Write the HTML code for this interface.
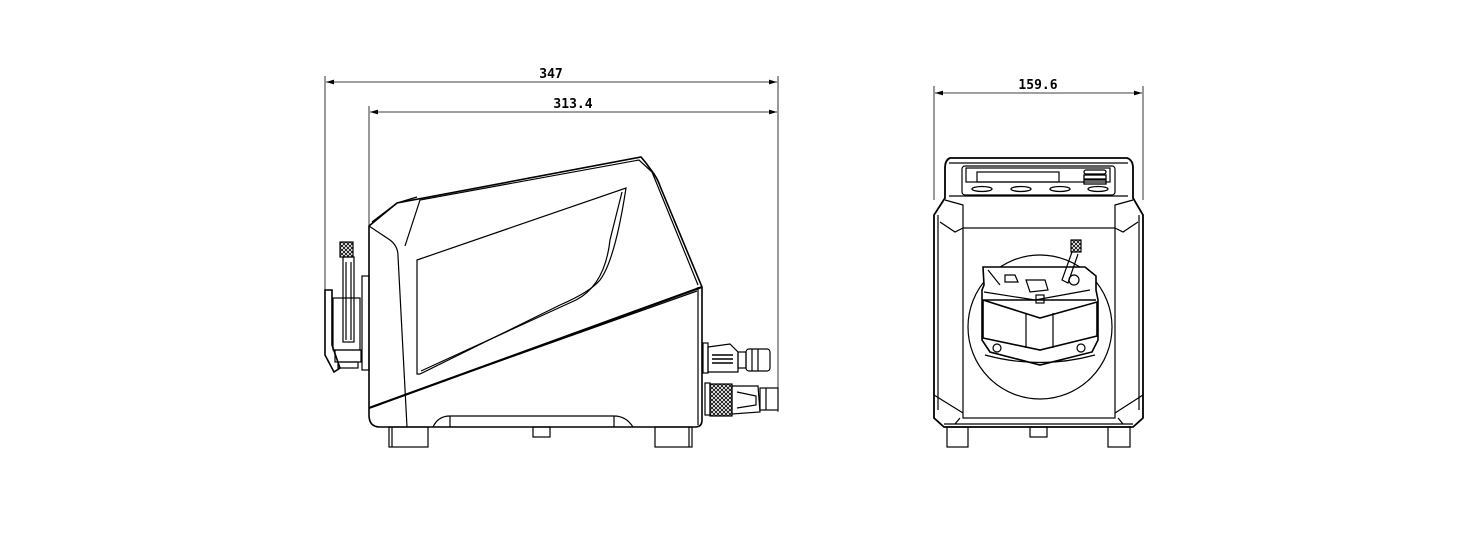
<!DOCTYPE html>
<html><head><meta charset="utf-8"><style>
html,body{margin:0;padding:0;background:#fff;width:1484px;height:556px;overflow:hidden}
svg{display:block}
text{font-family:"DejaVu Sans Mono","Liberation Mono",monospace;font-weight:bold;font-size:13px;fill:#000}
</style></head><body>
<svg width="1484" height="556" viewBox="0 0 1484 556" xmlns="http://www.w3.org/2000/svg">
<defs>
<marker id="a" viewBox="0 0 10 6" refX="10" refY="3" markerWidth="10" markerHeight="6" orient="auto-start-reverse"><path d="M0,0 L10,3 L0,6 z" fill="#000"/></marker>
<pattern id="k" width="4" height="4" patternUnits="userSpaceOnUse"><path d="M0,0L4,4M4,0L0,4" stroke="#000" stroke-width="0.8"/></pattern>
</defs>
<g fill="none" stroke="#000" stroke-width="1.2">
<line x1="325" y1="76" x2="325" y2="290" stroke-width="0.8"/>
<line x1="778" y1="76" x2="778" y2="412" stroke-width="0.8"/>
<line x1="369" y1="106" x2="369" y2="226" stroke-width="0.8"/>
<line x1="326" y1="82" x2="777" y2="82" stroke-width="0.8" marker-start="url(#a)" marker-end="url(#a)"/>
<line x1="370" y1="112" x2="777" y2="112" stroke-width="0.8" marker-start="url(#a)" marker-end="url(#a)"/>
<path d="M369,226 L397,203 L641,157 L646,163 L654,174 Q658,180 660,186 L702,287 L702,420 Q702,427 695,427 L380,427 Q369,427 369,415 Z" stroke-width="1.6"/>
<path d="M369,226 L390,240 Q398,246 398,256 L407,427"/>
<path d="M397,203 L417,197 M397,203 L372,222"/>
<path d="M405,246 L420,200 L639,160 L652,172 L698,285"/>
<path d="M369,408 L702,287" stroke-width="2.2"/>
<path d="M407,394 L697,291"/>
<path d="M417,260 L626,188 Q615,260 600,280 Q590,292 560,305 L420,374 L417,374 Z"/>
<path d="M421,371 L576,300 Q605,285 610,240 L622,192"/>
<path d="M698,287 L698,425"/>
<path d="M433,427 Q438,416 450,416 L614,416 Q626,416 633,427"/>
<path d="M450,416 L450,427 M614,416 L614,427"/>
<rect x="389" y="427" width="39" height="20"/>
<rect x="655" y="427" width="37" height="20"/>
<rect x="533" y="427" width="17" height="10"/>
<line x1="392" y1="427" x2="392" y2="447"/><line x1="689" y1="427" x2="689" y2="447"/>
<rect x="340" y="242" width="13" height="15" fill="url(#k)"/>
<rect x="343" y="257" width="11" height="85"/>
<line x1="346" y1="262" x2="346" y2="340"/><line x1="351" y1="262" x2="351" y2="340"/>
<path d="M325,290 L332,290 L332,345 L340,368 L334,372 L325,355 Z" stroke-width="1.6"/>
<rect x="333" y="298" width="27" height="52"/>
<rect x="362" y="276" width="7" height="94"/>
<rect x="335" y="350" width="26" height="12"/>
<rect x="338" y="362" width="20" height="6"/>
<rect x="703" y="343" width="5" height="30"/>
<path d="M708,347 L730,344 L738,352 L738,372 L708,372 Z"/>
<g stroke-width="1.6"><line x1="712" y1="355" x2="733" y2="355"/><line x1="712" y1="359" x2="733" y2="359"/><line x1="712" y1="363" x2="733" y2="363"/></g>
<rect x="738" y="352" width="8" height="16"/>
<rect x="746" y="349" width="24" height="22" rx="3"/>
<line x1="752" y1="349" x2="752" y2="371"/><line x1="758" y1="349" x2="758" y2="371"/>
<rect x="705" y="383" width="5" height="32"/>
<rect x="710" y="384" width="22" height="32" fill="url(#k)"/>
<path d="M732,386 L758,386 L760,412 L732,414 Z"/>
<path d="M737,392 L756,396 L756,405 L737,408"/>
<rect x="760" y="388" width="18" height="22"/>
<line x1="766" y1="388" x2="766" y2="410"/>
<line x1="934" y1="86" x2="934" y2="200" stroke-width="0.8"/>
<line x1="1143" y1="86" x2="1143" y2="200" stroke-width="0.8"/>
<line x1="935" y1="93" x2="1142" y2="93" stroke-width="0.8" marker-start="url(#a)" marker-end="url(#a)"/>
<path d="M950,158 L1127,158 Q1133,160 1133,168 L1133,198 L1143,215 L1143,418 L1133,427 L944,427 L934,418 L934,215 L945,198 L945,168 Q945,160 950,158 Z" stroke-width="1.8"/>
<path d="M949,163 L1128,163 M949,196 L1128,196"/>
<rect x="962" y="166" width="153" height="29" rx="3"/>
<rect x="966" y="168" width="144" height="14"/>
<rect x="977" y="172" width="82" height="10"/>
<g stroke-width="1.3"><ellipse cx="982" cy="189" rx="10" ry="2.5"/><ellipse cx="1021" cy="189" rx="10" ry="2.5"/><ellipse cx="1060" cy="189" rx="10" ry="2.5"/><ellipse cx="1098" cy="189" rx="10" ry="2.5"/>
<rect x="1084" y="170" width="22" height="4" rx="2"/><rect x="1084" y="175" width="22" height="4"/><rect x="1084" y="180" width="22" height="4"/></g>
<path d="M945,200 L963,205 L963,228 M1133,200 L1115,205 L1115,228"/>
<path d="M940,222 L955,232 L963,228 M1138,222 L1123,232 L1115,228"/>
<path d="M938,215 L938,410 M1139,215 L1139,410"/>
<rect x="963" y="228" width="152" height="190"/>
<path d="M934,395 L963,413 M1143,395 L1115,413"/>
<path d="M944,424 L1133,424 M960,418 L955,424 M1118,418 L1123,424"/>
<circle cx="1040" cy="327" r="72"/>
<path d="M983,267 L1085,267 L1096,276 L1096,290 L1098,300 L1098,340 L1092,352 L1040,365 L990,352 L982,340 L982,290 L984,285 Z" fill="#fff" stroke-width="1.6"/>
<path d="M983,300 L1096,300 M983,300 L983,338 L1040,350 L1097,336 L1097,302 L1040,318 Z" stroke-width="1.6"/>
<line x1="1026" y1="313" x2="1026" y2="348"/><line x1="1053" y1="313" x2="1053" y2="348"/>
<path d="M984,292 L1035,300 L1090,290 M988,270 L1000,285 M1005,275 L1015,275 L1018,282 L1005,282 Z M1026,280 L1045,280 L1048,290 L1030,292 Z"/>
<rect x="1071" y="240" width="10" height="12" fill="url(#k)"/>
<path d="M1072,252 L1062,280 L1068,283 L1078,254"/>
<circle cx="1074" cy="280" r="5"/>
<rect x="1036" y="295" width="8" height="8"/>
<circle cx="997" cy="348" r="4"/><circle cx="1081" cy="348" r="4"/>
<path d="M985,355 Q1040,370 1095,355"/>
<rect x="947" y="427" width="21" height="20"/>
<rect x="1108" y="427" width="22" height="20"/>
<rect x="1030" y="427" width="17" height="10"/>
</g>
<text x="551" y="78" text-anchor="middle">347</text>
<text x="573" y="108" text-anchor="middle">313.4</text>
<text x="1038" y="89" text-anchor="middle">159.6</text>
</svg>
</body></html>
